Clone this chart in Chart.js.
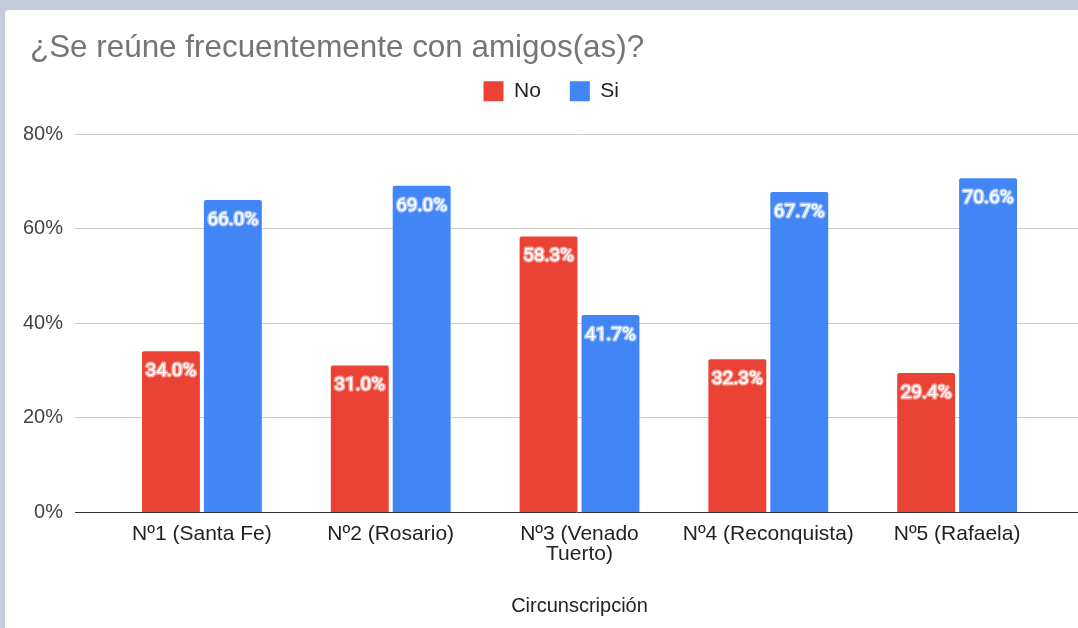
<!DOCTYPE html>
<html>
<head>
<meta charset="utf-8">
<script src="https://cdn.jsdelivr.net/npm/chart.js@4"></script>
<style>
  body { margin: 0; background: #c3cbdc; width: 1078px; height: 628px; overflow: hidden; }
  #panel { position: absolute; left: 5px; top: 10px; width: 1073px; height: 618px; background: #fff; border-top-left-radius: 4px; }
</style>
</head>
<body>
<div id="panel"><canvas id="chart" width="1073" height="618"></canvas></div>
<script>
// data
const categories = ["Nº1 (Santa Fe)", "Nº2 (Rosario)", ["Nº3 (Venado", "Tuerto)"], "Nº4 (Reconquista)", "Nº5 (Rafaela)"];
const noValues = [34.0, 31.0, 58.3, 32.3, 29.4];
const siValues = [66.0, 69.0, 41.7, 67.7, 70.6];
const yTicks = [0, 20, 40, 60, 80];

const RED = "#ea4335";
const BLUE = "#4285f4";
const FONT = "'Liberation Sans', Arial, sans-serif";

// grid lines, axis line and y labels run wider than the bar area
const wideGrid = {
  id: "wideGrid",
  beforeDatasetsDraw(chart) {
    const ctx = chart.ctx;
    const y = chart.scales.y;
    ctx.save();
    ctx.font = "20px " + FONT;
    ctx.textAlign = "right";
    ctx.textBaseline = "middle";
    yTicks.forEach((t) => {
      const py = Math.round(y.getPixelForValue(t)) + 0.5;
      ctx.strokeStyle = t === 0 ? "#333333" : "#cccccc";
      ctx.lineWidth = 1;
      ctx.beginPath();
      ctx.moveTo(70, py);
      ctx.lineTo(chart.width, py);
      ctx.stroke();
      ctx.fillStyle = "#444444";
      ctx.fillText(t + "%", 58, py);
    });
    ctx.restore();
  },
};

// value labels inside the top of each bar
const barLabels = {
  id: "barLabels",
  afterDatasetsDraw(chart) {
    const ctx = chart.ctx;
    const halos = ["#f5aaa3", "#a9c7fb"];
    ctx.save();
    ctx.font = "19px Roboto";
    ctx.textAlign = "center";
    ctx.textBaseline = "middle";
    ctx.lineJoin = "round";
    chart.data.datasets.forEach((ds, i) => {
      chart.getDatasetMeta(i).data.forEach((bar, j) => {
        const txt = ds.data[j].toFixed(1) + "%";
        ctx.strokeStyle = halos[i];
        ctx.lineWidth = 3;
        ctx.strokeText(txt, bar.x, bar.y + 20);
        ctx.fillStyle = "#ffffff";
        ctx.fillText(txt, bar.x, bar.y + 20);
      });
    });
    ctx.restore();
  },
};

const ctx = document.getElementById("chart").getContext("2d");

new Chart(ctx, {
  type: "bar",
  data: {
    labels: categories,
    datasets: [
      {
        label: "No",
        data: noValues,
        backgroundColor: RED,
        borderRadius: 2,
        categoryPercentage: 0.656,
        barPercentage: 0.935,
      },
      {
        label: "Si",
        data: siValues,
        backgroundColor: BLUE,
        borderRadius: 2,
        categoryPercentage: 0.656,
        barPercentage: 0.935,
      },
    ],
  },
  plugins: [wideGrid, barLabels],
  options: {
    responsive: false,
    animation: false,
    layout: { padding: { left: 25, right: 5.5, top: 0, bottom: 0 } },
    plugins: {
      title: {
        display: true,
        text: "¿Se reúne frecuentemente con amigos(as)?",
        align: "start",
        color: "#757575",
        font: { family: FONT, size: 31.4, weight: "normal", lineHeight: 0.25 },
        padding: { top: 34, bottom: 0 },
      },
      legend: {
        display: true,
        labels: {
          color: "#222222",
          font: { family: FONT, size: 21 },
          boxWidth: 20,
          boxHeight: 20,
          padding: 29,
        },
      },
      // empty box under the legend, keeps the gap above the plot
      subtitle: {
        display: true,
        text: "",
        weight: 500,
        font: { size: 1, lineHeight: 1 },
        padding: { top: 21, bottom: 0 },
      },
      tooltip: { enabled: false },
    },
    scales: {
      x: {
        grid: { display: false },
        border: { display: false },
        ticks: {
          color: "#222222",
          font: { family: FONT, size: 21, lineHeight: 0.95 },
          padding: 4,
          maxRotation: 0,
          autoSkip: false,
        },
        title: {
          display: true,
          text: "Circunscripción",
          color: "#222222",
          font: { family: FONT, size: 20 },
          padding: { top: 0, bottom: 10 },
        },
        afterFit(scale) {
          scale.height = 116;
        },
      },
      y: {
        min: 0,
        max: 80,
        grid: { display: false },
        border: { display: false },
        ticks: { display: false, stepSize: 20 },
        afterFit(scale) {
          scale.width = 77.5;
        },
      },
      // empty spacer on the right so the plot ends before the panel edge
      spacer: {
        type: "linear",
        position: "right",
        grid: { display: false },
        border: { display: false },
        ticks: { display: false },
        afterFit(scale) {
          scale.width = 21;
        },
      },
    },
  },
});
</script>
</body>
</html>
